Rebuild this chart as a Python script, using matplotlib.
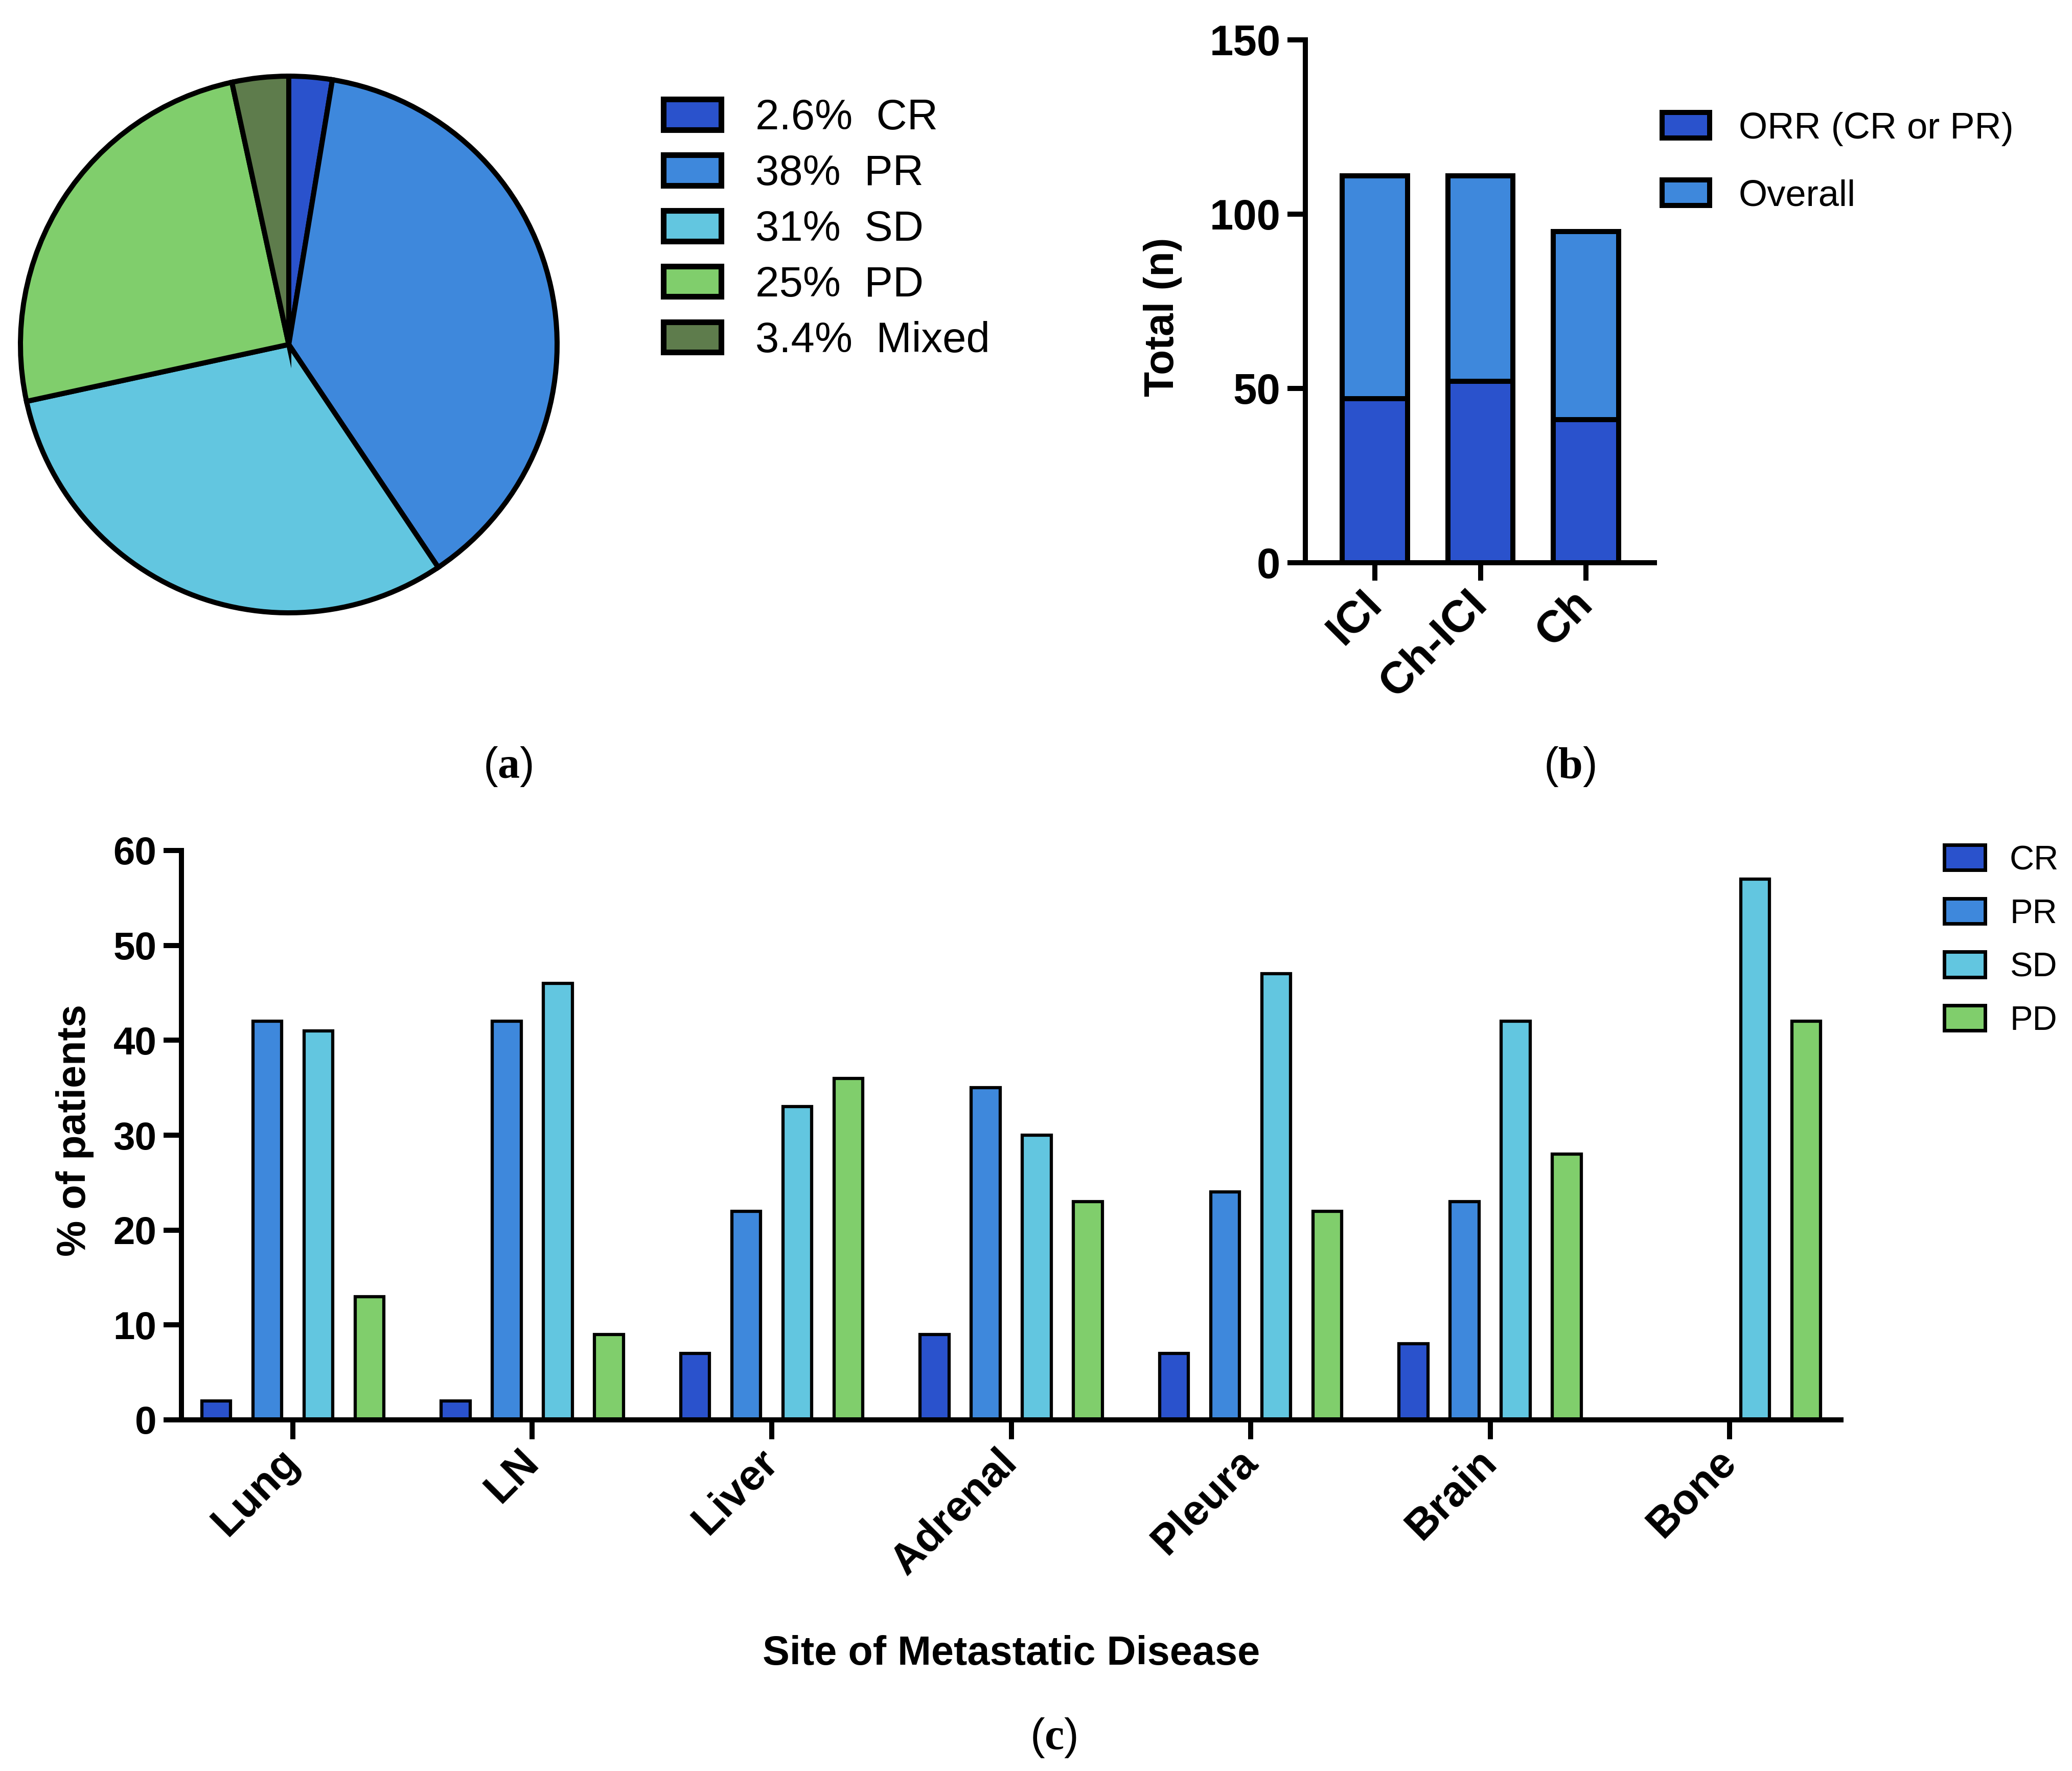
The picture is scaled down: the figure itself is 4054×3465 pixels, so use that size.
import matplotlib
matplotlib.use("Agg")
import matplotlib.pyplot as plt
from matplotlib.patches import Patch
import numpy as np

plt.rcParams['font.family'] = ['Liberation Sans', 'DejaVu Sans']
plt.rcParams['mathtext.fontset'] = 'custom'
plt.rcParams['mathtext.rm'] = 'Liberation Serif'
plt.rcParams['mathtext.bf'] = 'Liberation Serif:bold'

# ---------------- data ----------------
# Panel (a): best overall response
pie_labels = ["CR", "PR", "SD", "PD", "Mixed"]
pie_values = [2.6, 38, 31, 25, 3.4]
pie_pct_text = ["2.6%", "38%", "31%", "25%", "3.4%"]

# Panel (b): response by treatment
treatments = ["ICI", "Ch-ICI", "Ch"]
overall_n = [111, 111, 95]
orr_n = [47, 52, 41]
b_yticks = [0, 50, 100, 150]

# Panel (c): response by metastatic site
sites = ["Lung", "LN", "Liver", "Adrenal", "Pleura", "Brain", "Bone"]
resp_groups = ["CR", "PR", "SD", "PD"]
cr_pct = [2, 2, 7, 9, 7, 8, 0]
pr_pct = [42, 42, 22, 35, 24, 23, 0]
sd_pct = [41, 46, 33, 30, 47, 42, 57]
pd_pct = [13, 9, 36, 23, 22, 28, 42]
c_yticks = [0, 10, 20, 30, 40, 50, 60]

# ---------------- style ----------------
C_CR = "#2A52CC"
C_PR = "#3E88DC"
C_SD = "#62C6E0"
C_PD = "#80CE6C"
C_MX = "#5E7C4C"
pie_colors = [C_CR, C_PR, C_SD, C_PD, C_MX]

W, H = 4054, 3465
DPI = 100
fig = plt.figure(figsize=(W / DPI, H / DPI), dpi=DPI)


def fx(px):
    return px / W


def fy(py):
    return 1 - py / H


LW = 7.2  # ~10 px

# ---------------- panel (a) ----------------
cx, cy, r = 565, 674, 525
ax_a = fig.add_axes([fx(cx - r), fy(cy + r), 2 * r / W, 2 * r / H])
wedges, _ = ax_a.pie(pie_values, colors=pie_colors, startangle=90, counterclock=False,
                     wedgeprops=dict(edgecolor='black', linewidth=LW))
for w in wedges:
    w.set_clip_on(False)
ax_a.set_xlim(-1, 1)
ax_a.set_ylim(-1, 1)
ax_a.set_aspect('equal')
ax_a.axis('off')

fig.legend(handles=[Patch(facecolor=c, edgecolor='black', linewidth=8) for c in pie_colors],
           labels=[f"{p}  {l}" for p, l in zip(pie_pct_text, pie_labels)],
           loc='center left', bbox_to_anchor=(fx(1298), fy(449)), frameon=False,
           fontsize=60, handlelength=1.36, handleheight=0.72, handletextpad=0.8,
           labelspacing=0.37, borderpad=0, borderaxespad=0)

# ---------------- panel (b) ----------------
bl, br, bt, bb = 2554, 3237, 77.6, 1101
ax_b = fig.add_axes([fx(bl), fy(bb), (br - bl) / W, (bb - bt) / H])
xb = np.arange(len(treatments))
ax_b.bar(xb, overall_n, width=0.62, color=C_PR, edgecolor='black', linewidth=LW)
ax_b.bar(xb, orr_n, width=0.62, color=C_CR, edgecolor='black', linewidth=LW)
ax_b.set_xlim(-0.66, 2.65)
ax_b.set_ylim(0, 150)
ax_b.set_yticks(b_yticks)
ax_b.set_xticks(xb)
ax_b.set_xticklabels(treatments, rotation=45, ha='right', va='center', rotation_mode='anchor')
for s in ['top', 'right']:
    ax_b.spines[s].set_visible(False)
for s in ['left', 'bottom']:
    ax_b.spines[s].set_linewidth(LW)
ax_b.tick_params(width=LW, length=25, labelsize=60, pad=10)
ax_b.tick_params(axis='x', labelsize=63, pad=24)
for t in ax_b.get_xticklabels() + ax_b.get_yticklabels():
    t.set_fontweight('bold')
ax_b.set_ylabel("Total (n)", fontsize=58, fontweight='bold', va='center')
ax_b.yaxis.set_label_coords((2275 - bl) / (br - bl), (bb - 620) / (bb - bt))

fig.legend(handles=[Patch(facecolor=C_CR, edgecolor='black', linewidth=LW),
                    Patch(facecolor=C_PR, edgecolor='black', linewidth=LW)],
           labels=["ORR (CR or PR)", "Overall"],
           loc='center left', bbox_to_anchor=(fx(3252), fy(318)), frameon=False,
           fontsize=52, handlelength=1.29, handleheight=0.69, handletextpad=0.78,
           labelspacing=0.9, borderpad=0, borderaxespad=0)

# ---------------- panel (c) ----------------
cl, cr_, ct, cb = 355, 3602, 1664, 2778
ax_c = fig.add_axes([fx(cl), fy(cb), (cr_ - cl) / W, (cb - ct) / H])
xc = np.arange(len(sites))
step = 0.2134
bw = 0.12
series = [cr_pct, pr_pct, sd_pct, pd_pct]
cols = [C_CR, C_PR, C_SD, C_PD]
for k, (vals, col) in enumerate(zip(series, cols)):
    ax_c.bar(xc + (k - 1.5) * step, vals, width=bw, color=col, edgecolor='black', linewidth=4.5)
ax_c.set_xlim(-0.465, 6.465)
ax_c.set_ylim(0, 60)
ax_c.set_yticks(c_yticks)
ax_c.set_xticks(xc)
ax_c.set_xticklabels(sites, rotation=45, ha='right', va='center', rotation_mode='anchor')
for s in ['top', 'right']:
    ax_c.spines[s].set_visible(False)
for s in ['left', 'bottom']:
    ax_c.spines[s].set_linewidth(LW)
ax_c.tick_params(width=LW, length=25, labelsize=55, pad=10)
ax_c.tick_params(axis='x', length=27, labelsize=60, pad=24)
for t in ax_c.get_xticklabels() + ax_c.get_yticklabels():
    t.set_fontweight('bold')
ax_c.set_ylabel("% of patients", fontsize=57, fontweight='bold', va='center')
ax_c.yaxis.set_label_coords((147 - cl) / (cr_ - cl), (cb - 2211) / (cb - ct))
ax_c.set_xlabel("Site of Metastatic Disease", fontsize=57, fontweight='bold', va='center')
ax_c.xaxis.set_label_coords(0.5, (cb - 3237) / (cb - ct))

fig.legend(handles=[Patch(facecolor=c, edgecolor='black', linewidth=5) for c in cols],
           labels=resp_groups,
           loc='center left', bbox_to_anchor=(fx(3804), fy(1841)), frameon=False,
           fontsize=48, handlelength=1.2, handleheight=0.76, handletextpad=0.72,
           labelspacing=0.64, borderpad=0, borderaxespad=0)

# ---------------- captions ----------------
cap_kw = dict(fontsize=62, ha='center', va='center')
fig.text(fx(994), fy(1500), r"($\mathbf{a}$)", **cap_kw)
fig.text(fx(3071), fy(1500), r"($\mathbf{b}$)", **cap_kw)
fig.text(fx(2061), fy(3400), r"($\mathbf{c}$)", **cap_kw)

fig.savefig("out.png", dpi=DPI, facecolor='white')
